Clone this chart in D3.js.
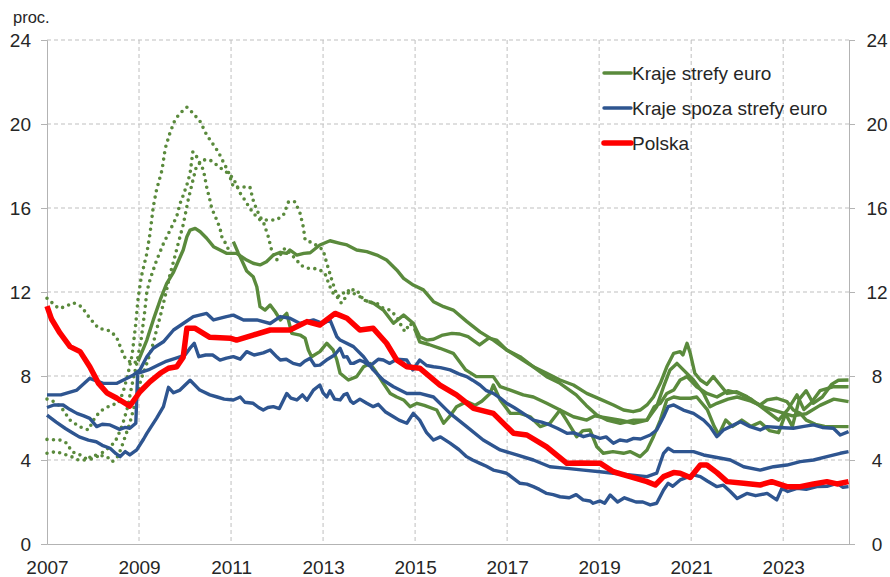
<!DOCTYPE html>
<html>
<head>
<meta charset="utf-8">
<script src="https://cdn.jsdelivr.net/npm/d3@7"></script>
<style>
  body { margin: 0; background: #fff; }
  svg { display: block; font-family: "Liberation Sans", Arial, sans-serif; }
</style>
</head>
<body>
<div id="chart"></div>
<script>
// ---- data: [year, value] pairs ----
var yearTicks = [2007, 2009, 2011, 2013, 2015, 2017, 2019, 2021, 2023];
var valueTicks = [0, 4, 8, 12, 16, 20, 24];
var legendLabels = ["Kraje strefy euro", "Kraje spoza strefy euro", "Polska"];

// euro-area countries: dotted before joining, solid after
var euroA_dot = [[2007.0,11.7],[2007.25,11.22],[2007.4,11.3],[2007.57,11.49],[2007.75,11.3],[2007.93,10.75],[2008.12,10.27],[2008.3,10.19],[2008.4,10.11],[2008.52,9.8],[2008.62,9.24],[2008.7,8.84],[2008.85,8.6],[2008.98,8.7]];
var euroA = [[2008.98,8.7],[2009.17,9.71],[2009.31,10.67],[2009.46,11.62],[2009.6,12.4],[2009.75,12.95],[2009.9,13.7],[2009.96,14.0],[2010.04,14.63],[2010.11,14.95],[2010.22,15.03],[2010.33,14.87],[2010.47,14.56],[2010.62,14.16],[2010.76,14.0],[2010.9,13.84],[2011.12,13.84],[2011.34,13.52],[2011.48,13.37],[2011.63,13.29],[2011.77,13.44],[2011.92,13.76],[2012.07,13.89],[2012.21,13.84],[2012.28,14.0],[2012.43,13.76],[2012.58,13.84],[2012.72,13.87],[2012.93,14.24],[2013.15,14.44],[2013.37,14.32],[2013.52,14.24],[2013.73,14.0],[2013.95,13.92],[2014.17,13.76],[2014.38,13.52],[2014.6,13.05],[2014.75,12.65],[2014.96,12.33],[2015.18,12.1],[2015.4,11.54],[2015.62,11.3],[2015.83,11.14],[2016.12,10.6],[2016.41,10.1],[2016.7,9.71],[2016.99,9.24],[2017.28,8.92],[2017.57,8.44],[2017.86,8.13],[2018.15,7.81],[2018.44,7.57],[2018.73,7.17],[2019.02,6.9],[2019.31,6.62],[2019.53,6.38],[2019.74,6.3],[2019.89,6.38],[2020.04,6.62],[2020.18,7.0],[2020.33,7.65],[2020.47,8.44],[2020.62,9.08],[2020.76,9.16],[2020.82,9.0],[2020.91,9.56],[2020.98,9.08],[2021.08,8.13],[2021.2,7.81],[2021.34,7.6],[2021.48,7.97],[2021.63,7.57],[2021.78,7.17],[2021.99,7.25],[2022.21,7.02],[2022.35,6.78],[2022.5,6.62],[2022.65,6.86],[2022.86,6.94],[2023.08,6.78],[2023.22,6.38],[2023.37,6.22],[2023.5,5.9],[2023.7,5.7],[2023.9,5.6],[2024.42,5.59]];

var euroB_dot = [[2007.0,6.9],[2007.15,6.78],[2007.3,6.54],[2007.5,5.9],[2007.7,5.59],[2007.9,5.43],[2008.05,6.06],[2008.2,6.38],[2008.4,6.62],[2008.55,6.7],[2008.65,7.2],[2008.75,8.0],[2008.85,9.0],[2008.93,10.5],[2008.98,11.7],[2009.05,12.73],[2009.17,13.84],[2009.24,14.8],[2009.31,16.06],[2009.38,16.86],[2009.5,17.81],[2009.57,18.84],[2009.67,19.56],[2009.78,20.19],[2009.89,20.51],[2010.04,20.8],[2010.18,20.5],[2010.33,20.11],[2010.47,19.48],[2010.62,19.0],[2010.72,18.68],[2010.83,18.2],[2010.94,17.73],[2011.05,17.0],[2011.2,17.0],[2011.41,17.0],[2011.48,16.38],[2011.56,15.9],[2011.67,15.43],[2011.85,15.43],[2011.99,15.43],[2012.14,15.67],[2012.25,16.3],[2012.39,16.3],[2012.5,15.75],[2012.57,15.1],[2012.61,14.48],[2012.79,14.32],[2013.0,14.0],[2013.08,13.37],[2013.19,12.57],[2013.26,12.1],[2013.32,11.7],[2013.4,11.46],[2013.5,11.78],[2013.59,12.1],[2013.73,12.1],[2013.88,11.62],[2013.99,11.54]];
var euroB = [[2013.99,11.54],[2014.1,11.46],[2014.31,11.14],[2014.53,10.51],[2014.75,10.9],[2014.96,10.51],[2015.1,9.87],[2015.25,9.71],[2015.4,9.75],[2015.6,9.95],[2015.8,10.03],[2015.97,10.0],[2016.15,9.87],[2016.4,9.48],[2016.6,9.8],[2016.77,9.71],[2016.99,9.24],[2017.28,8.84],[2017.57,8.44],[2017.86,7.97],[2018.15,7.65],[2018.5,7.1],[2018.72,6.6],[2018.95,6.14],[2019.17,5.9],[2019.46,5.75],[2019.75,5.9],[2020.04,5.9],[2020.25,6.54],[2020.4,7.49],[2020.54,8.29],[2020.69,8.6],[2020.83,8.29],[2021.05,7.81],[2021.27,7.17],[2021.41,6.54],[2021.56,6.7],[2021.8,6.9],[2022.0,7.0],[2022.3,6.8],[2022.6,6.5],[2022.9,6.3],[2023.2,6.1],[2023.5,6.2],[2023.8,6.6],[2024.1,6.9],[2024.42,6.78]];

var euroC_dot = [[2007.0,4.98],[2007.28,4.95],[2007.43,4.8],[2007.54,4.4],[2007.72,4.24],[2007.9,4.0],[2008.09,4.16],[2008.23,4.4],[2008.37,4.63],[2008.48,4.87],[2008.55,5.19],[2008.65,5.75],[2008.75,6.5],[2008.85,7.6],[2008.95,8.6],[2009.05,9.8],[2009.12,11.0],[2009.17,12.0],[2009.24,12.6],[2009.38,13.5],[2009.53,14.3],[2009.71,15.1],[2009.82,15.6],[2009.89,16.2],[2009.96,16.6],[2010.04,17.1],[2010.11,17.65],[2010.17,18.68],[2010.25,18.45],[2010.4,17.81],[2010.47,17.0],[2010.54,16.38],[2010.58,15.98],[2010.69,15.43],[2010.76,15.03],[2010.8,14.63],[2010.88,14.32],[2010.95,14.0]];
var euroC = [[2011.05,14.4],[2011.16,13.84],[2011.23,13.52],[2011.34,13.0],[2011.48,12.73],[2011.56,12.25],[2011.63,11.3],[2011.74,11.14],[2011.85,11.38],[2011.96,11.06],[2012.07,10.67],[2012.21,10.98],[2012.32,10.03],[2012.5,9.95],[2012.61,9.8],[2012.68,9.24],[2012.75,8.92],[2012.93,9.16],[2013.08,9.56],[2013.22,9.24],[2013.3,8.76],[2013.37,8.13],[2013.55,7.81],[2013.73,7.97],[2013.88,8.44],[2014.02,8.6],[2014.15,8.2],[2014.31,7.65],[2014.46,7.17],[2014.6,7.0],[2014.75,6.86],[2014.89,6.54],[2015.04,6.7],[2015.2,6.6],[2015.47,6.38],[2015.62,5.75],[2015.76,6.1],[2015.9,6.54],[2016.12,6.78],[2016.3,6.6],[2016.45,6.8],[2016.63,7.17],[2016.7,7.57],[2016.85,6.86],[2017.07,6.22],[2017.28,6.22],[2017.5,6.06],[2017.72,5.59],[2017.93,5.75],[2018.15,6.38],[2018.29,5.9],[2018.51,5.11],[2018.65,5.4],[2018.8,5.43],[2018.95,4.63],[2019.09,4.32],[2019.3,4.4],[2019.53,4.32],[2019.67,4.4],[2019.89,4.16],[2020.04,4.48],[2020.18,5.11],[2020.33,5.9],[2020.47,6.86],[2020.62,7.0],[2020.76,6.94],[2020.98,6.94],[2021.12,7.0],[2021.35,6.4],[2021.5,5.6],[2021.6,5.2],[2021.75,5.9],[2021.9,5.6],[2022.1,5.9],[2022.3,5.6],[2022.5,5.8],[2022.7,5.4],[2022.9,5.3],[2023.05,6.2],[2023.2,5.6],[2023.35,6.9],[2023.5,7.3],[2023.65,6.7],[2023.85,7.0],[2024.05,7.6],[2024.2,7.8],[2024.42,7.81]];

var euroD_dot = [[2007.0,4.32],[2007.2,4.4],[2007.53,4.16],[2007.68,4.0],[2007.85,4.0],[2008.0,4.24],[2008.2,4.2],[2008.3,4.16],[2008.42,3.92],[2008.55,4.2],[2008.65,4.8],[2008.8,5.75],[2008.95,7.0],[2009.02,7.65],[2009.09,8.13],[2009.17,8.6],[2009.24,9.08],[2009.31,9.56],[2009.38,10.19],[2009.46,10.83],[2009.53,11.46],[2009.6,12.1],[2009.67,12.8],[2009.78,13.7],[2009.85,14.3],[2009.96,15.2],[2010.07,16.4],[2010.18,17.4],[2010.25,18.0],[2010.4,18.29],[2010.54,18.29],[2010.69,18.05],[2010.83,17.81],[2010.94,17.65],[2011.05,17.41],[2011.2,16.7],[2011.3,16.38],[2011.41,15.98],[2011.52,15.67],[2011.63,15.43],[2011.7,15.35],[2011.81,14.63],[2011.88,14.0],[2011.99,13.52],[2012.17,14.08],[2012.43,13.52],[2012.5,13.29],[2012.65,13.13],[2012.79,13.13],[2012.93,13.05],[2013.04,12.89],[2013.15,12.25],[2013.22,11.94],[2013.37,11.78],[2013.51,12.1],[2013.8,11.78],[2013.95,11.54],[2014.17,11.46],[2014.31,11.22],[2014.45,11.14],[2014.6,10.83],[2014.71,10.35],[2014.78,10.11],[2014.89,10.51],[2015.0,10.2]];
var euroD = [[2015.0,10.2],[2015.1,9.63],[2015.3,9.5],[2015.54,9.32],[2015.83,9.08],[2016.1,8.29],[2016.33,7.97],[2016.7,7.97],[2016.85,7.49],[2017.07,7.33],[2017.35,7.1],[2017.57,7.0],[2017.86,6.7],[2018.15,6.38],[2018.44,6.06],[2018.73,5.9],[2018.9,6.1],[2019.17,6.0],[2019.46,5.9],[2019.75,5.75],[2020.04,5.9],[2020.2,6.54],[2020.33,6.7],[2020.47,7.17],[2020.62,7.33],[2020.76,7.81],[2020.91,7.97],[2021.12,7.49],[2021.34,7.17],[2021.56,7.0],[2021.8,7.3],[2022.0,7.2],[2022.3,6.9],[2022.6,6.4],[2022.9,5.9],[2023.1,6.4],[2023.3,7.1],[2023.45,6.4],[2023.6,6.7],[2023.8,7.3],[2024.1,7.49],[2024.42,7.49]];

// non-euro countries
var nonEuroA = [[2007.0,7.1],[2007.3,7.1],[2007.65,7.33],[2007.93,7.89],[2008.22,7.65],[2008.52,7.65],[2008.88,8.05],[2009.02,8.29],[2009.17,8.92],[2009.31,9.32],[2009.53,9.63],[2009.75,10.19],[2009.96,10.5],[2010.18,10.83],[2010.47,10.98],[2010.62,10.67],[2010.9,10.83],[2011.05,10.9],[2011.27,10.67],[2011.56,10.67],[2011.85,10.5],[2012.07,10.83],[2012.28,10.75],[2012.5,10.5],[2012.79,10.67],[2013.0,10.5],[2013.15,10.67],[2013.3,9.87],[2013.37,9.71],[2013.66,9.4],[2013.88,8.92],[2014.09,8.29],[2014.31,7.8],[2014.53,7.49],[2014.82,7.17],[2015.1,7.17],[2015.4,7.0],[2015.76,6.22],[2016.12,5.59],[2016.48,4.95],[2016.85,4.48],[2017.21,4.24],[2017.57,4.0],[2017.93,3.68],[2018.3,3.6],[2018.66,3.52],[2019.02,3.44],[2019.31,3.37],[2019.67,3.29],[2020.04,3.21],[2020.25,3.37],[2020.4,4.32],[2020.5,4.56],[2020.62,4.4],[2021.05,4.4],[2021.27,4.24],[2021.56,4.12],[2021.85,4.0],[2022.14,3.68],[2022.5,3.52],[2022.79,3.68],[2023.08,3.76],[2023.37,3.92],[2023.66,4.0],[2023.95,4.16],[2024.24,4.32],[2024.42,4.4]];
var nonEuroB = [[2007.0,6.5],[2007.15,6.62],[2007.35,6.62],[2007.5,6.4],[2007.65,6.22],[2007.8,6.1],[2007.93,5.98],[2008.08,5.59],[2008.2,5.7],[2008.37,5.67],[2008.58,5.46],[2008.7,5.55],[2008.8,5.51],[2008.93,5.75],[2008.97,8.13],[2009.2,8.29],[2009.42,8.52],[2009.57,8.68],[2009.79,8.84],[2010.0,9.0],[2010.1,9.3],[2010.2,9.56],[2010.3,8.92],[2010.45,9.0],[2010.6,9.0],[2010.76,8.76],[2010.9,8.85],[2011.05,8.92],[2011.2,8.8],[2011.34,9.16],[2011.5,9.0],[2011.7,9.1],[2011.85,9.24],[2012.0,8.9],[2012.07,8.76],[2012.2,8.8],[2012.35,8.6],[2012.5,8.52],[2012.6,8.7],[2012.72,8.84],[2012.82,8.5],[2012.93,8.52],[2013.1,8.8],[2013.25,9.0],[2013.37,9.32],[2013.45,8.9],[2013.52,8.92],[2013.6,8.6],[2013.66,8.6],[2013.8,8.75],[2013.88,8.68],[2014.0,8.5],[2014.09,8.6],[2014.2,8.8],[2014.31,8.76],[2014.45,8.6],[2014.6,8.8],[2014.82,8.76],[2014.95,8.29],[2015.1,8.76],[2015.25,8.5],[2015.4,8.44],[2015.55,8.4],[2015.76,8.29],[2015.95,8.1],[2016.12,7.97],[2016.25,7.8],[2016.41,7.57],[2016.55,7.3],[2016.7,7.17],[2016.85,6.95],[2016.99,6.7],[2017.15,6.5],[2017.35,6.22],[2017.57,5.9],[2017.75,5.8],[2017.93,5.67],[2018.1,5.5],[2018.3,5.27],[2018.45,5.3],[2018.66,5.11],[2018.8,5.2],[2019.02,5.03],[2019.15,5.1],[2019.31,4.8],[2019.45,4.95],[2019.6,4.9],[2019.75,5.03],[2019.9,5.0],[2020.11,5.19],[2020.25,5.43],[2020.4,6.06],[2020.5,6.54],[2020.62,6.62],[2020.83,6.38],[2021.05,6.22],[2021.27,5.9],[2021.41,5.59],[2021.56,5.11],[2021.7,5.43],[2021.85,5.59],[2022.07,5.82],[2022.28,5.59],[2022.5,5.43],[2022.65,5.59],[2022.9,5.55],[2023.22,5.51],[2023.45,5.6],[2023.66,5.67],[2023.85,5.55],[2024.09,5.51],[2024.24,5.19],[2024.42,5.35]];
var nonEuroC = [[2007.0,6.14],[2007.2,5.8],[2007.4,5.5],[2007.55,5.3],[2007.7,5.1],[2007.9,4.95],[2008.07,4.87],[2008.2,4.7],[2008.37,4.56],[2008.5,4.3],[2008.59,4.16],[2008.7,4.4],[2008.8,4.24],[2008.95,4.48],[2009.1,5.0],[2009.17,5.27],[2009.38,5.98],[2009.53,6.54],[2009.64,7.46],[2009.75,7.2],[2009.89,7.33],[2010.11,7.8],[2010.32,7.33],[2010.54,7.1],[2010.7,7.0],[2010.85,6.9],[2011.05,6.86],[2011.2,7.0],[2011.3,6.75],[2011.48,6.7],[2011.6,6.5],[2011.7,6.38],[2011.8,6.5],[2011.92,6.54],[2012.05,6.45],[2012.21,7.17],[2012.3,6.95],[2012.43,6.86],[2012.55,7.1],[2012.65,6.85],[2012.79,7.33],[2012.93,7.57],[2013.0,7.2],[2013.08,7.0],[2013.15,7.3],[2013.25,6.9],[2013.37,6.86],[2013.45,7.1],[2013.52,7.17],[2013.6,6.8],[2013.66,6.7],[2013.8,6.9],[2013.95,6.7],[2014.09,6.54],[2014.2,6.65],[2014.35,6.3],[2014.53,6.06],[2014.65,5.9],[2014.82,5.75],[2014.96,6.22],[2015.1,5.9],[2015.25,5.3],[2015.4,4.95],[2015.55,5.1],[2015.76,4.8],[2015.95,4.5],[2016.12,4.16],[2016.25,4.0],[2016.41,3.84],[2016.55,3.7],[2016.7,3.52],[2016.85,3.45],[2016.99,3.37],[2017.15,3.1],[2017.28,2.89],[2017.43,2.85],[2017.57,2.73],[2017.7,2.6],[2017.86,2.41],[2018.0,2.35],[2018.15,2.25],[2018.35,2.2],[2018.5,2.35],[2018.65,2.1],[2018.8,2.05],[2018.87,1.94],[2019.02,2.05],[2019.12,1.94],[2019.24,2.33],[2019.4,2.0],[2019.55,2.2],[2019.67,2.1],[2019.8,2.0],[2019.95,2.0],[2020.11,1.86],[2020.25,1.94],[2020.4,2.57],[2020.5,2.89],[2020.6,2.75],[2020.76,3.05],[2021.05,3.29],[2021.2,3.21],[2021.35,3.0],[2021.56,2.73],[2021.7,2.8],[2021.85,2.5],[2022.0,2.17],[2022.21,2.41],[2022.4,2.3],[2022.65,2.41],[2022.86,2.1],[2022.97,2.65],[2023.1,2.5],[2023.3,2.65],[2023.5,2.6],[2023.73,2.73],[2023.95,2.75],[2024.17,2.89],[2024.3,2.7],[2024.42,2.73]];

var polska = [[2007.0,11.33],[2007.1,10.7],[2007.28,10.05],[2007.5,9.4],[2007.72,9.16],[2007.93,8.44],[2008.12,7.65],[2008.3,7.2],[2008.52,6.94],[2008.8,6.57],[2009.02,7.25],[2009.24,7.73],[2009.46,8.13],[2009.64,8.37],[2009.82,8.44],[2009.96,8.9],[2010.04,10.27],[2010.22,10.27],[2010.54,9.84],[2010.98,9.8],[2011.12,9.71],[2011.48,9.95],[2011.85,10.19],[2012.28,10.19],[2012.65,10.59],[2012.93,10.43],[2013.26,10.98],[2013.52,10.75],[2013.8,10.19],[2014.09,10.27],[2014.38,9.56],[2014.6,8.76],[2014.82,8.44],[2015.1,8.37],[2015.54,7.57],[2015.9,7.1],[2016.27,6.46],[2016.7,6.22],[2017.14,5.27],[2017.43,5.19],[2017.86,4.63],[2018.3,3.84],[2018.59,3.86],[2019.02,3.85],[2019.31,3.44],[2019.67,3.21],[2020.04,2.97],[2020.22,2.81],[2020.4,3.21],[2020.62,3.4],[2020.76,3.37],[2020.98,3.17],[2021.2,3.76],[2021.34,3.76],[2021.56,3.4],[2021.78,2.97],[2022.14,2.89],[2022.5,2.81],[2022.75,2.97],[2023.08,2.73],[2023.37,2.73],[2023.66,2.86],[2023.95,2.97],[2024.17,2.86],[2024.42,2.97]];

var green = "#5a8a3c", blue = "#2e5590", red = "#ff0000";
var gridColor = "#bfbfbf", axisColor = "#b3b3b3", textColor = "#262626";

var W = 890, H = 577;
var svg = d3.select("#chart").append("svg").attr("width", W).attr("height", H);

var x = d3.scaleLinear().domain([2007, 2024.43]).range([47, 849]);
var y = d3.scaleLinear().domain([0, 24]).range([544, 40]);

// grid
svg.append("g").selectAll("line")
  .data(valueTicks.filter(function(d){ return d > 0; }))
  .enter().append("line")
  .attr("x1", x.range()[0]).attr("x2", x.range()[1])
  .attr("y1", function(d){ return y(d); }).attr("y2", function(d){ return y(d); })
  .attr("stroke", gridColor).attr("stroke-dasharray", "4,3");
svg.append("g").selectAll("line")
  .data(yearTicks.filter(function(d){ return d > 2007; }))
  .enter().append("line")
  .attr("x1", function(d){ return x(d); }).attr("x2", function(d){ return x(d); })
  .attr("y1", y(24)).attr("y2", y(0))
  .attr("stroke", gridColor).attr("stroke-dasharray", "4,3");

// axes
var leftAxis = d3.axisLeft(y).tickValues(valueTicks).tickSize(6).tickPadding(10);
var rightAxis = d3.axisRight(y).tickValues(valueTicks).tickSize(6).tickPadding(22);
var bottomAxis = d3.axisBottom(x).tickValues(yearTicks).tickSize(0).tickPadding(17).tickFormat(d3.format("d"));

function styleAxis(g) {
  g.select(".domain").attr("stroke", axisColor);
  g.selectAll(".tick line").attr("stroke", axisColor);
  g.selectAll(".tick text").attr("fill", textColor).style("font-size", "19px")
    .style("font-family", '"Liberation Sans", Arial, sans-serif');
}
svg.append("g").attr("transform", "translate(47,0)").call(leftAxis).call(styleAxis);
svg.append("g").attr("transform", "translate(849,0)").call(rightAxis).call(styleAxis)
  .selectAll(".tick text").attr("text-anchor", "middle");
svg.append("g").attr("transform", "translate(0,544)").call(bottomAxis).call(styleAxis);

svg.append("text").attr("x", 13).attr("y", 23).attr("fill", textColor)
  .style("font-size", "16.5px").text("proc.");

// lines
var line = d3.line().x(function(d){ return x(d[0]); }).y(function(d){ return y(d[1]); });

var dotted = [euroA_dot, euroB_dot, euroC_dot, euroD_dot];
svg.append("g").selectAll("path").data(dotted).enter().append("path")
  .attr("d", line).attr("fill", "none").attr("stroke", green)
  .attr("stroke-width", 3.6).attr("stroke-linecap", "round")
  .attr("stroke-dasharray", "0,6.5");

var greens = [euroA, euroB, euroC, euroD];
svg.append("g").selectAll("path").data(greens).enter().append("path")
  .attr("d", line).attr("fill", "none").attr("stroke", green)
  .attr("stroke-width", 3.4).attr("stroke-linejoin", "round");

var blues = [nonEuroA, nonEuroB, nonEuroC];
svg.append("g").selectAll("path").data(blues).enter().append("path")
  .attr("d", line).attr("fill", "none").attr("stroke", blue)
  .attr("stroke-width", 3.4).attr("stroke-linejoin", "round");

svg.append("path").datum(polska).attr("d", line).attr("fill", "none")
  .attr("stroke", red).attr("stroke-width", 5.5).attr("stroke-linejoin", "round");

// legend
var legendColors = [green, blue, red];
var legendWidths = [3.4, 3.4, 5.5];
var lg = svg.append("g").selectAll("g").data(legendLabels).enter().append("g")
  .attr("transform", function(d, i){ return "translate(604," + (73 + i * 35) + ")"; });
lg.append("line").attr("x1", 0).attr("x2", 27).attr("y1", 0).attr("y2", 0)
  .attr("stroke", function(d, i){ return legendColors[i]; })
  .attr("stroke-width", function(d, i){ return legendWidths[i]; })
  .attr("stroke-linecap", "round");
lg.append("text").attr("x", 28).attr("y", 7).attr("fill", textColor)
  .style("font-size", "19px").text(function(d){ return d; });
</script>
</body>
</html>
